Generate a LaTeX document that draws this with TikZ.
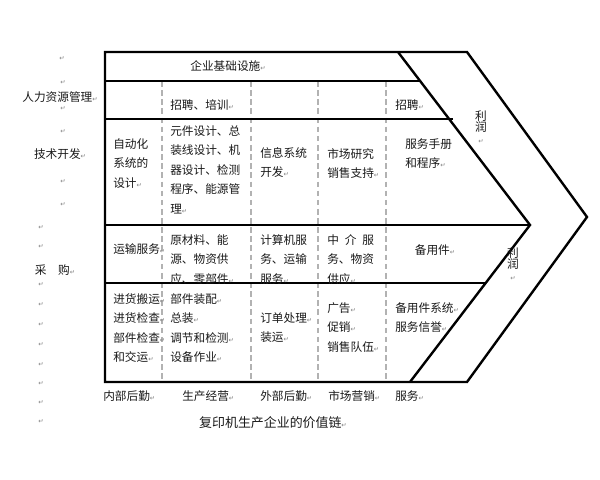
\documentclass[tikz,border=0pt]{standalone}
\usepackage{fontspec}
\setmainfont{Noto Sans CJK SC}
\newfontfamily\symfont{DejaVu Sans}
\newcommand{\retmark}{{\symfont\fontsize{4.5}{5}\selectfont\color{gray}↵}}

\begin{document}
\begin{tikzpicture}[x=0.25mm,y=-0.25mm]
            \tikzstyle{every node}=[inner sep=0pt, font=\fontsize{8.3}{13.9}\selectfont, text=black!90]
            \tikzstyle{frame}=[line width=1.7pt, line join=miter]
            \tikzstyle{divider}=[gray!60, line width=0.9pt, dash pattern=on 4pt off 2.5pt]
            \tikzstyle{cell}=[anchor=north west, align=left]
            \tikzstyle{profit}=[align=center, font=\fontsize{8.3}{8.2}\selectfont]

            \useasboundingbox (0,0) rectangle (600,480);

            \coordinate (nw) at (105,52);
            \coordinate (sw) at (105,382);
            \coordinate (otop) at (467,52);
            \coordinate (otip) at (587,217);
            \coordinate (obot) at (467,382);
            \coordinate (itop) at (398,52);
            \coordinate (itip) at (530,225);
            \coordinate (ibot) at (410,382);

            \foreach \x in {162,251,318,386}
                \draw[divider] (\x,81) -- (\x,382);

            \draw[frame] (nw) -- (otop) -- (otip) -- (obot) -- (sw) -- cycle;
            \draw[frame] (itop) -- (itip) -- (ibot);
            \draw[frame] (105,81) -- (420,81);
            \draw[frame] (105,119) -- (453,119);
            \draw[frame] (105,225) -- (itip);
            \draw[frame] (105,283) -- (486,283);

            \node (infra) at (228,66) {企业基础设施\retmark};
            \node[anchor=west] (hr2) at (170,105) {招聘、培训\retmark};
            \node[anchor=west] (hr5) at (395,105) {招聘\retmark};

            \node[cell] (td1) at (113,138) {自动化\\系统的\\设计\retmark};
            \node[cell] (td2) at (170,125) {元件设计、总\\装线设计、机\\器设计、检测\\程序、能源管\\理\retmark};
            \node[cell] (td3) at (260,147) {信息系统\\开发\retmark};
            \node[cell] (td4) at (327,148) {市场研究\\销售支持\retmark};
            \node[cell] (td5) at (405,138) {服务手册\\和程序\retmark};

            \node[anchor=west] (pu1) at (113,249) {运输服务\retmark};
            \node[cell] (pu2) at (170,234) {原材料、能\\源、物资供\\应、零部件\retmark};
            \node[cell] (pu3) at (260,234) {计算机服\\务、运输\\服务\retmark};
            \node[cell] (pu4) at (327,234) {中\hspace{0.5em}介\hspace{0.5em}服\\务、物资\\供应\retmark};
            \node (pu5) at (435,250) {备用件\retmark};

            \node[cell] (op1) at (113,293) {进货搬运\retmark\\进货检查\retmark\\部件检查\retmark\\和交运\retmark};
            \node[cell] (op2) at (170,293) {部件装配\retmark\\总装\retmark\\调节和检测\retmark\\设备作业\retmark};
            \node[cell] (op3) at (260,312) {订单处理\retmark\\装运\retmark};
            \node[cell] (op4) at (327,302) {广告\retmark\\促销\retmark\\销售队伍\retmark};
            \node[cell] (op5) at (395,302) {备用件系统\retmark\\服务信誉\retmark};

            \node[profit] (pr1) at (481,127) {利\\润\\\retmark};
            \node[profit] (pr2) at (513,264) {利\\润\\\retmark};

            \node (hrm) at (60,97) {人力资源管理\retmark};
            \node (tdv) at (60,154) {技术开发\retmark};
            \node (pch) at (55,270) {采\hspace{1em}购\retmark};

            \foreach \x/\y in {62/59,63/83,63/109,63/132,63/182,63/205,41/228,41/247,41/285,41/305,41/325,41/345,41/365,41/384,41/403,41/422}
                \node (ret\y) at (\x,\y) {\retmark};

            \node[anchor=west] (il) at (103,396) {内部后勤\retmark};
            \node[anchor=west] (ops) at (182,396) {生产经营\retmark};
            \node[anchor=west] (ol) at (260,396) {外部后勤\retmark};
            \node[anchor=west] (mkt) at (328,396) {市场营销\retmark};
            \node[anchor=west] (svc) at (395,396) {服务\retmark};

            \node[font=\fontsize{9.2}{11}\selectfont] (cap) at (273,423) {复印机生产企业的价值链\retmark};
        \end{tikzpicture}
\end{document}
